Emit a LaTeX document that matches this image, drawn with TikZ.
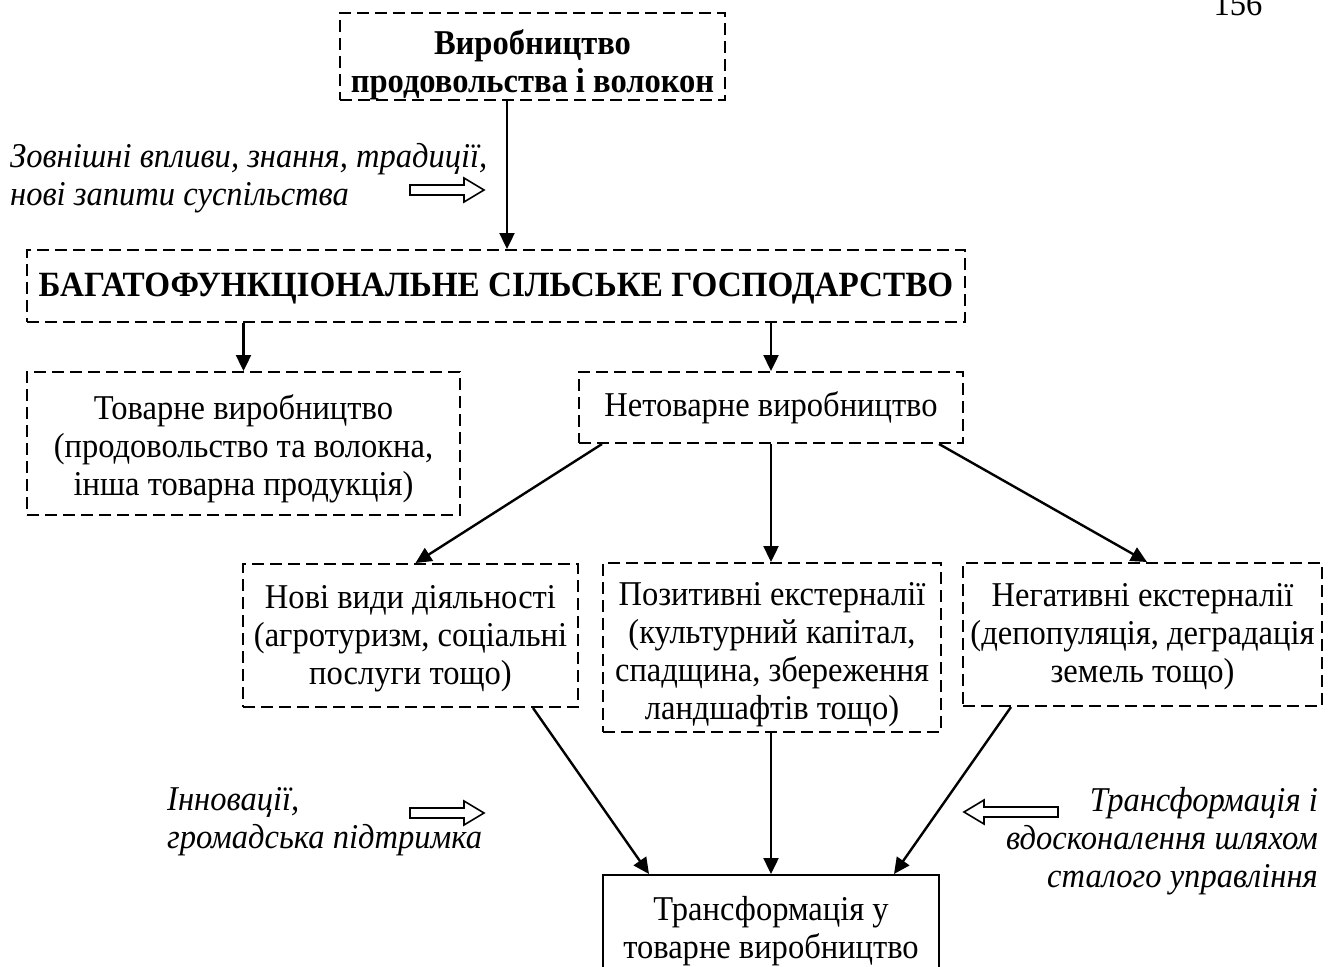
\documentclass[tikz,border=0pt]{standalone}
\usepackage{fontspec}
\setmainfont[FakeStretch=0.935]{Liberation Serif}
\usetikzlibrary{arrows.meta}
\begin{document}
\begin{tikzpicture}[x=1pt,y=-1pt,
  every node/.style={font=\fontsize{34.8}{38}\selectfont, align=center, inner sep=0pt},
  dbox/.style={draw, line width=2pt, dash pattern=on 12pt off 6pt},
  sbox/.style={draw, line width=2pt},
  arr/.style={line width=2.4pt, -{Triangle[length=16pt,width=15pt]}},
  italictext/.style={font=\fontsize{34.8}{38}\selectfont\itshape},
  pics/harr/.style={code={\draw[line width=1.6pt, line join=miter]
     (0,-5) -- (#1-20,-5) -- (#1-20,-12) -- (#1,0) -- (#1-20,12) -- (#1-20,5) -- (0,5) -- cycle;}}
]
\useasboundingbox (0,0) rectangle (1332,966);

\node[anchor=base] (page) at (1238,16) {156};

% boxes
\node[dbox, minimum width=385pt, minimum height=87pt] (top) at (532.5,56.5) {};
\node[dbox, minimum width=938pt, minimum height=72pt] (big) at (496,286) {};
\node[dbox, minimum width=433pt, minimum height=143pt] (tov) at (243.5,443.5) {};
\node[dbox, minimum width=384pt, minimum height=71pt] (net) at (771,407.5) {};
\node[dbox, minimum width=335pt, minimum height=143pt] (nov) at (410.5,635.5) {};
\node[dbox, minimum width=338pt, minimum height=169pt] (pos) at (772,647.5) {};
\node[dbox, minimum width=359pt, minimum height=143pt] (neg) at (1142.5,634.5) {};
\node[sbox, minimum width=336pt, minimum height=106pt] (bot) at (771,928) {};

% box texts
\node (top-t) at ([yshift=-8pt]top.center)
  {\bfseries Виробництво\\ \bfseries продовольства і волокон};
\node[font=\fontsize{35.5}{38}\selectfont\bfseries] (big-t) at ([yshift=-3pt]big.center)
  {БАГАТОФУНКЦІОНАЛЬНЕ СІЛЬСЬКЕ ГОСПОДАРСТВО};
\node (tov-t) at ([yshift=-5pt]tov.center)
  {Товарне виробництво\\(продовольство та волокна,\\інша товарна продукція)};
\node (net-t) at (net.center) {Нетоварне виробництво};
\node (nov-t) at ([yshift=-3pt]nov.center)
  {Нові види діяльності\\(агротуризм, соціальні\\послуги тощо)};
\node (pos-t) at ([yshift=-7pt]pos.center)
  {Позитивні екстерналії\\(культурний капітал,\\спадщина, збереження\\ландшафтів тощо)};
\node (neg-t) at ([yshift=-2pt]neg.center)
  {Негативні екстерналії\\(депопуляція, деградація\\земель тощо)};
\node (bot-t) at ([yshift=-3pt]bot.center)
  {Трансформація у\\товарне виробництво};

% side texts
\node[italictext, anchor=west, align=left] (ext) at (10,178)
  {Зовнішні впливи, знання, традиції,\\нові запити суспільства};
\node[italictext, anchor=west, align=left] (inn) at (167,822)
  {Інновації,\\громадська підтримка};
\node[italictext, anchor=east, align=right] (trf) at (1318,841)
  {Трансформація і\\вдосконалення шляхом\\сталого управління};

% hollow arrows
\pic at (410,190) {harr=74};
\pic at (410,813) {harr=74};
\pic[xscale=-1] at (1058,812) {harr=94};

% connectors
\coordinate (ax) at (507,0);
\draw[arr] (top.south -| ax) -- (big.north -| ax);
\draw[arr] (big.south -| tov.north) -- (tov.north);
\draw[arr] (big.south -| net.north) -- (net.north);
\draw[arr] ([xshift=24pt]net.south west) -- ([xshift=5pt]nov.north);
\draw[arr] (net.south) -- (net.south |- pos.north);
\draw[arr] ([xshift=-25pt]net.south east) -- ([xshift=4.5pt]neg.north);
\draw[arr] ([xshift=-46pt]nov.south east) -- ([xshift=47pt]bot.north west);
\draw[arr] (net.south |- pos.south) -- (net.south |- bot.north);
\draw[arr] ([xshift=49pt]neg.south west) -- ([xshift=-46pt]bot.north east);
\end{tikzpicture}
\end{document}
